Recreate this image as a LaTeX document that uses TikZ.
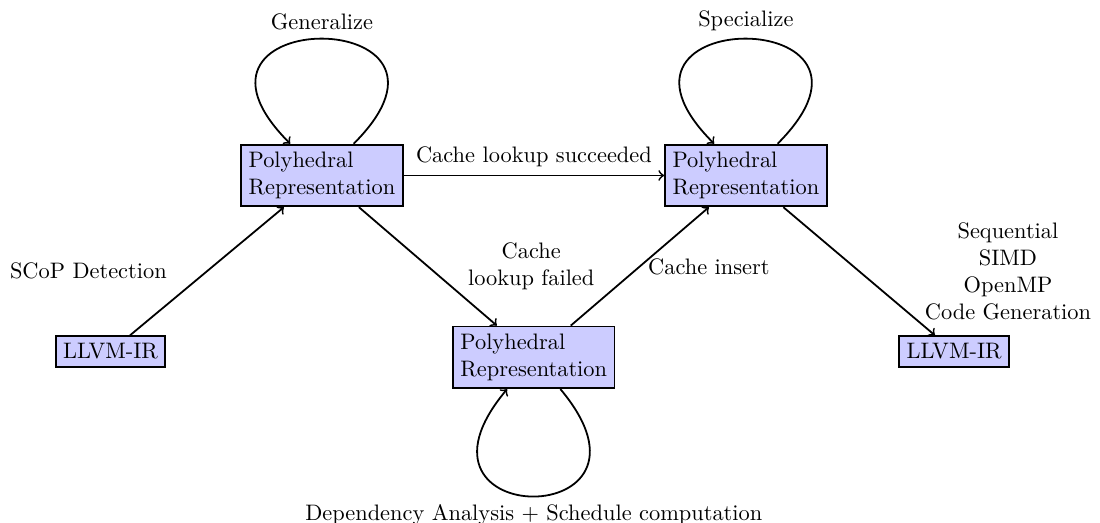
\documentclass[tikz,border=0pt]{standalone}
\usetikzlibrary{positioning}

\tikzset{
  repbox/.style={draw, thick, fill=blue!20, align=left},
  flow/.style={->, thick},
  selfloop/.style={looseness=8},
}

\begin{document}
\begin{tikzpicture}
		\useasboundingbox (0,0) rectangle (17.27,-8.21);

		%representations
		\node[repbox] (llvmIn) at (1.735,-5.52) {LLVM-IR};
		\node[repbox] (polyGen) at (5.055,-2.755) {Polyhedral\\Representation};
		\node[repbox] (polySpec) at (11.71,-2.755) {Polyhedral\\Representation};
		\node[repbox] (polyDep) at (8.38,-5.61) {Polyhedral\\Representation};
		\node[repbox] (llvmOut) at (14.98,-5.52) {LLVM-IR};

		%transitions
		\path[flow] (llvmIn) edge node[left=0.5cm] (lblScop) {SCoP Detection} (polyGen);
		\path[flow] (polyGen) edge node[above] (lblHit) {Cache lookup succeeded} (polySpec);
		\path[flow] (polyGen) edge node[right=0.5cm, align=center] (lblMiss) {Cache\\lookup failed} (polyDep);
		\path[flow] (polyDep) edge node[right] (lblInsert) {Cache insert} (polySpec);
		\path[flow] (polySpec) edge node[right=0.9cm, align=center] (lblCodegen) {Sequential\\SIMD\\OpenMP\\Code Generation} (llvmOut);

		%loops
		\draw[flow] (polyGen) to[selfloop, out=45, in=135] node[above] (lblGen) {Generalize} (polyGen);
		\draw[flow] (polySpec) to[selfloop, out=45, in=135] node[above] (lblSpec) {Specialize} (polySpec);
		\draw[flow] (polyDep) to[selfloop, looseness=9, out=-50, in=-130] node[below] (lblDep) {Dependency Analysis $+$ Schedule computation} (polyDep);
\end{tikzpicture}
\end{document}
